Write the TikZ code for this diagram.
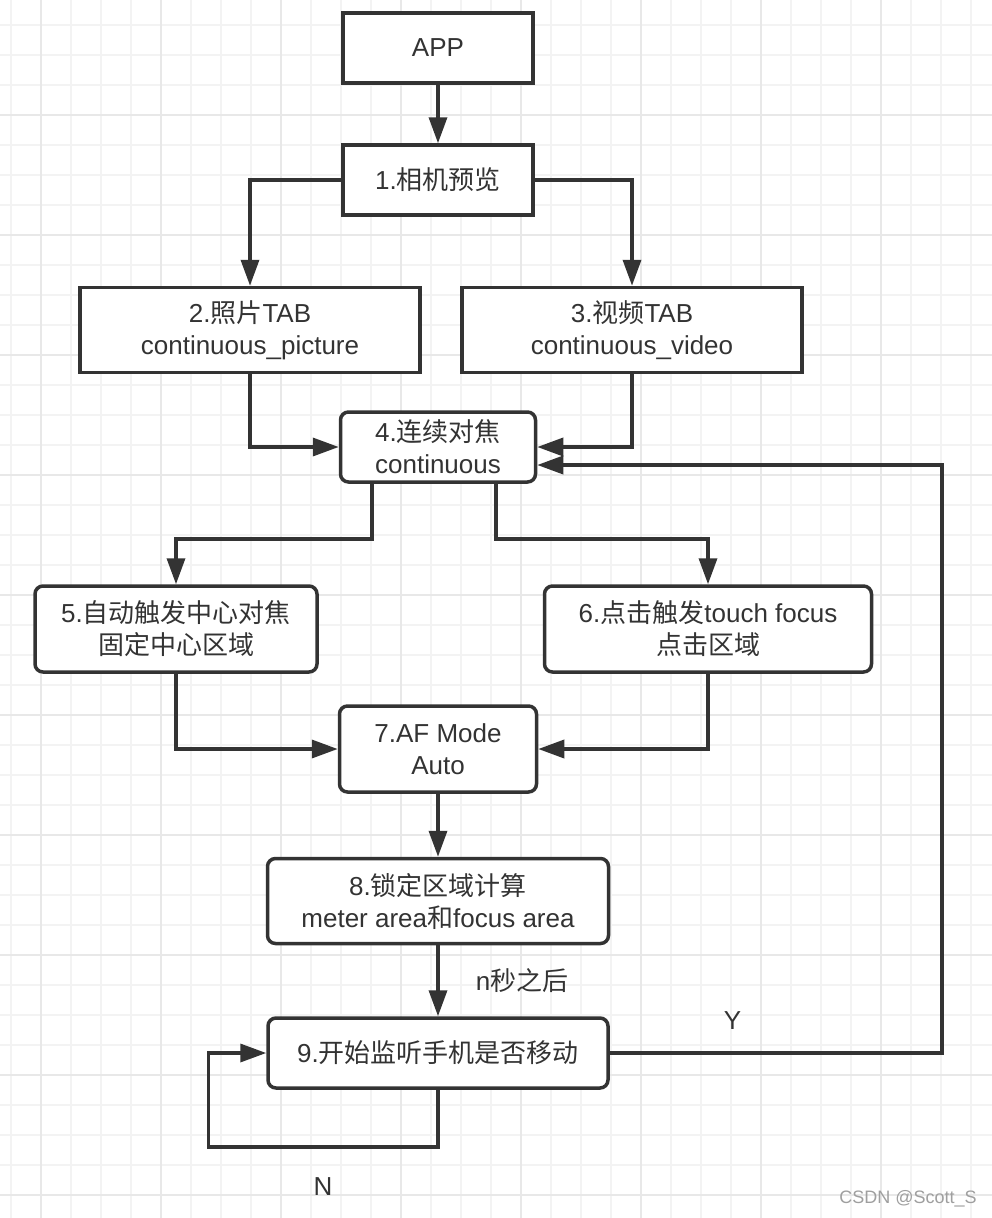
\documentclass[tikz,border=0pt]{standalone}
\usepackage{fontspec}
\setmainfont{Liberation Sans}
\newfontfamily\cjk{Noto Sans CJK SC}
\usetikzlibrary{arrows.meta,positioning}
\definecolor{ink}{HTML}{333333}
\definecolor{gridminor}{HTML}{F3F3F3}
\definecolor{gridmajor}{HTML}{E8E8E8}

\begin{document}
\begin{tikzpicture}[x=1pt,y=-1pt]
    \tikzstyle{box} = [draw=ink, line width=3.5pt, fill=white, text=ink, align=center, inner sep=0pt, font=\fontsize{26}{32}\selectfont];
    \tikzstyle{rbox} = [box, rounded corners=8pt];
    \tikzstyle{arr} = [draw=ink, line width=3.5pt, -{Triangle[length=26pt,width=18pt]}];
    \tikzstyle{lbl} = [text=ink, inner sep=0pt, font=\fontsize{26}{32}\selectfont];

    % paper grid
    \useasboundingbox (0,0) rectangle (992,1218);
    \fill[white] (0,0) rectangle (992,1218);
    \foreach \x in {11,41,...,991} \draw[gridminor, line width=2pt] (\x,0) -- (\x,1218);
    \foreach \y in {25,55,...,1218} \draw[gridminor, line width=2pt] (0,\y) -- (992,\y);
    \foreach \x in {41,161,...,991} \draw[gridmajor, line width=2pt] (\x,0) -- (\x,1218);
    \foreach \y in {115,235,...,1218} \draw[gridmajor, line width=2pt] (0,\y) -- (992,\y);

    \node[box, minimum width=190pt, minimum height=70pt](APP) at (438,48) {APP};
    \node[box, minimum width=190pt, minimum height=70pt](P1) at (438,180) {1.{\cjk 相机预览}};
    \node[box, minimum width=340pt, minimum height=85pt](P2) at (250,330) {2.{\cjk 照片}TAB\\continuous\_picture};
    \node[box, minimum width=340pt, minimum height=85pt](P3) at (632,330) {3.{\cjk 视频}TAB\\continuous\_video};
    \node[rbox, minimum width=195pt, minimum height=70pt](P4) at (438,447) {4.{\cjk 连续对焦}\\continuous};
    \node[rbox, minimum width=282pt, minimum height=86pt](P5) at (176,629) {5.{\cjk 自动触发中心对焦}\\{\cjk 固定中心区域}};
    \node[rbox, minimum width=327pt, minimum height=86pt](P6) at (708,629) {6.{\cjk 点击触发}touch focus\\{\cjk 点击区域}};
    \node[rbox, minimum width=197pt, minimum height=86pt](P7) at (438,749) {7.AF Mode\\Auto};
    \node[rbox, minimum width=341pt, minimum height=85pt](P8) at (438,901) {8.{\cjk 锁定区域计算}\\meter area{\cjk 和}focus area};
    \node[rbox, minimum width=340pt, minimum height=70pt](P9) at (438,1053) {9.{\cjk 开始监听手机是否移动}};

    \draw[arr] (APP) -- (P1);
    \draw[arr] (P1.west) -| (P2.north);
    \draw[arr] (P1.east) -| (P3.north);
    \draw[arr] (P2.south) |- (P4.west);
    \draw[arr] (P3.south) |- (P4.east);
    \draw[arr] ([xshift=-66pt]P4.south) -- ++(0,55) -| (P5.north);
    \draw[arr] ([xshift=58pt]P4.south) -- ++(0,55) -| (P6.north);
    \draw[arr] (P5.south) |- (P7.west);
    \draw[arr] (P6.south) |- (P7.east);
    \draw[arr] (P7) -- (P8);
    \draw[arr] (P8) -- node[lbl, right=36pt]{n{\cjk 秒之后}} (P9);
    \draw[arr] (P9.east) -- ++(332,0) node[lbl, pos=.37, above=22pt]{Y} |- ([yshift=-18pt]P4.east);
    \draw[arr] (P9.south) -- ++(0,57) -| node[lbl, pos=.25, below=29pt]{N} ([xshift=-58pt]P9.west) -- (P9.west);

    \node[text=gray!75, inner sep=0pt, font=\fontsize{18}{20}\selectfont](wm) at (908,1199) {CSDN @Scott\_S};
\end{tikzpicture}
\end{document}
